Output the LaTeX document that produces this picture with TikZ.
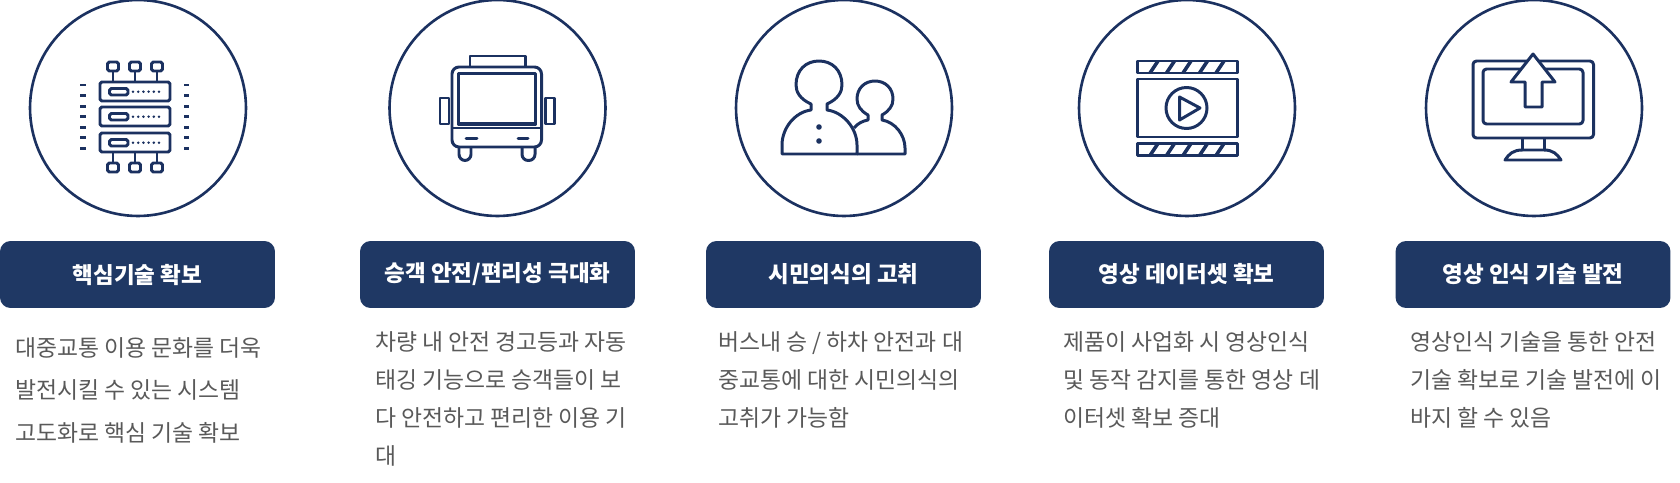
\documentclass[tikz,border=0pt]{standalone}
\usepackage{fontspec}
\setmainfont{Noto Sans CJK KR}
\usetikzlibrary{positioning}
\definecolor{navyline}{HTML}{1B3160}
\definecolor{navybox}{HTML}{1F3864}
\definecolor{bodygray}{HTML}{595959}
\tikzset{
  ringnode/.style={circle,draw=navyline,line width=1.5pt,minimum size=4.32cm,inner sep=0pt},
  headbox/.style={rectangle,rounded corners=6pt,fill=navybox,text=white,minimum width=5.5cm,minimum height=1.34cm,inner sep=0pt,font=\fontsize{12.8}{14}\selectfont\bfseries},
  bodytext/.style={anchor=north west,align=left,inner sep=0pt,text=bodygray,font=\fontsize{13}{21.6}\selectfont},
  iconline/.style={draw=navyline,line width=1.7pt,line join=round}
}
\begin{document}
\begin{tikzpicture}[x=0.02cm,y=-0.02cm]
  \useasboundingbox (0,0) rectangle (1680,483);
  % rings and title bars
  \foreach \ringx/\barx/\nm/\title in {138/137.5/a/{핵심기술 확보},497.5/497.5/b/{승객 안전/편리성 극대화},844/843.5/c/{시민의식의 고취},1187/1186.5/d/{영상 데이터셋 확보},1534/1533/e/{영상 인식 기술 발전}}{
    \node[ringnode] (ring\nm) at (\ringx,108) {};
    \node[headbox] (bar\nm) at (\barx,274.5) {\raisebox{-2pt}{\title}};
  }
  % body texts
  \node[bodytext,font=\fontsize{13}{24.2}\selectfont] (texta) at (15,337) {대중교통 이용 문화를 더욱\\발전시킬 수 있는 시스템\\고도화로 핵심 기술 확보};
  \node[bodytext] (textb) at (375,331.5) {차량 내 안전 경고등과 자동\\태깅 기능으로 승객들이 보\\다 안전하고 편리한 이용 기\\대};
  \node[bodytext] (textc) at (718,331.5) {버스내 승 / 하차 안전과 대\\중교통에 대한 시민의식의\\고취가 가능함};
  \node[bodytext] (textd) at (1063,331.5) {제품이 사업화 시 영상인식\\및 동작 감지를 통한 영상 데\\이터셋 확보 증대};
  \node[bodytext] (texte) at (1410,331.5) {영상인식 기술을 통한 안전\\기술 확보로 기술 발전에 이\\바지 할 수 있음};
  % server icon
  \foreach \y in {82,107,133}{
    \draw[iconline,rounded corners=1pt] (100,\y) rectangle (170,\y+19);
    \draw[iconline,rounded corners=1pt] (109.5,\y+6.5) rectangle (128,\y+13);
    \foreach \x in {133,138.2,...,159.5} \fill[navyline] (\x,\y+9.7) circle (1.4);
  }
  \foreach \x in {113,135,157}{
    \draw[iconline,rounded corners=1pt] (\x-5.5,62) rectangle (\x+5.5,71);
    \draw[iconline] (\x,71) -- (\x,82);
    \draw[iconline] (\x,152) -- (\x,163);
    \draw[iconline,rounded corners=1pt] (\x-5.5,163) rectangle (\x+5.5,172);
  }
  \foreach \y in {85,95.6,106.1,116.7,127.2,137.8,148.3}{
    \draw[iconline] (80,\y) -- (86,\y);
    \draw[iconline] (184,\y) -- (189,\y);
  }
  % bus icon
  \draw[iconline,rounded corners=4pt] (452,67) rectangle (541.5,147);
  \draw[iconline,line width=2pt] (458.5,73.5) rectangle (535.5,124);
  \draw[iconline] (452,128) -- (541.5,128);
  \draw[iconline] (470,67) -- (470,56) -- (525,56) -- (525,67);
  \draw[iconline] (440,98) rectangle (449,124);
  \draw[iconline] (545,98) rectangle (554,124);
  \draw[iconline,line cap=round] (466,138.5) -- (477,138.5);
  \draw[iconline,line cap=round] (518,138.5) -- (528,138.5);
  \draw[iconline,rounded corners=3.5pt] (459,147) -- (459,160.5) -- (471,160.5) -- (471,147);
  \draw[iconline,rounded corners=3.5pt] (522,147) -- (522,160.5) -- (535,160.5) -- (535,147);
  % people icon
  \draw[iconline] (782,154) -- (782,145) .. controls (782,128) and (795,112) .. (811,110) -- (811,104)
    .. controls (800,99) and (796,92) .. (796,85) .. controls (796,70) and (806,61) .. (819,61)
    .. controls (832,61) and (842,70) .. (842,85) .. controls (842,92) and (838,99) .. (827,104) -- (827,110)
    .. controls (843,112) and (857,128) .. (857,145) -- (857,154) -- cycle;
  \draw[iconline] (854,128) .. controls (858,123) and (863,121) .. (868,120) -- (868,115)
    .. controls (861,111) and (857,106) .. (857,99) .. controls (857,88) and (865,81) .. (875,81)
    .. controls (885,81) and (893,88) .. (893,99) .. controls (893,106) and (889,111) .. (882,115) -- (882,120)
    .. controls (895,122) and (905,135) .. (905,148) -- (905,154) -- (857,154);
  \fill[navyline] (819,127) circle (2.8);
  \fill[navyline] (819,141) circle (2.8);
  % film icon
  \foreach \y in {61,143.5}{
    \draw[iconline] (1137,\y) rectangle (1237,\y+12);
    \foreach \x in {1154,1170.5,1187,1203.5,1220}
      \draw[iconline,line width=2pt] (\x+4,\y) -- (\x-4,\y+12);
  }
  \draw[iconline] (1137,79) rectangle (1237,137);
  \draw[iconline] (1186.5,108) circle (20.5);
  \draw[iconline] (1179.5,97) -- (1179.5,120) -- (1200,108) -- cycle;
  % monitor icon
  \draw[iconline,rounded corners=2pt] (1473,61) rectangle (1593.5,138);
  \draw[iconline,rounded corners=2pt] (1483,69) rectangle (1583,124);
  \draw[iconline,fill=white] (1533,54) -- (1555,82) -- (1542,82) -- (1542,107) -- (1525,107) -- (1525,82) -- (1511,82) -- cycle;
  \draw[iconline] (1522.5,138) -- (1522.5,150);
  \draw[iconline] (1544,138) -- (1544,150);
  \draw[iconline] (1505,160) .. controls (1509,154) and (1513,150) .. (1522.5,150) -- (1544,150) .. controls (1553,150) and (1557,154) .. (1561,160) -- cycle;
\end{tikzpicture}
\end{document}
